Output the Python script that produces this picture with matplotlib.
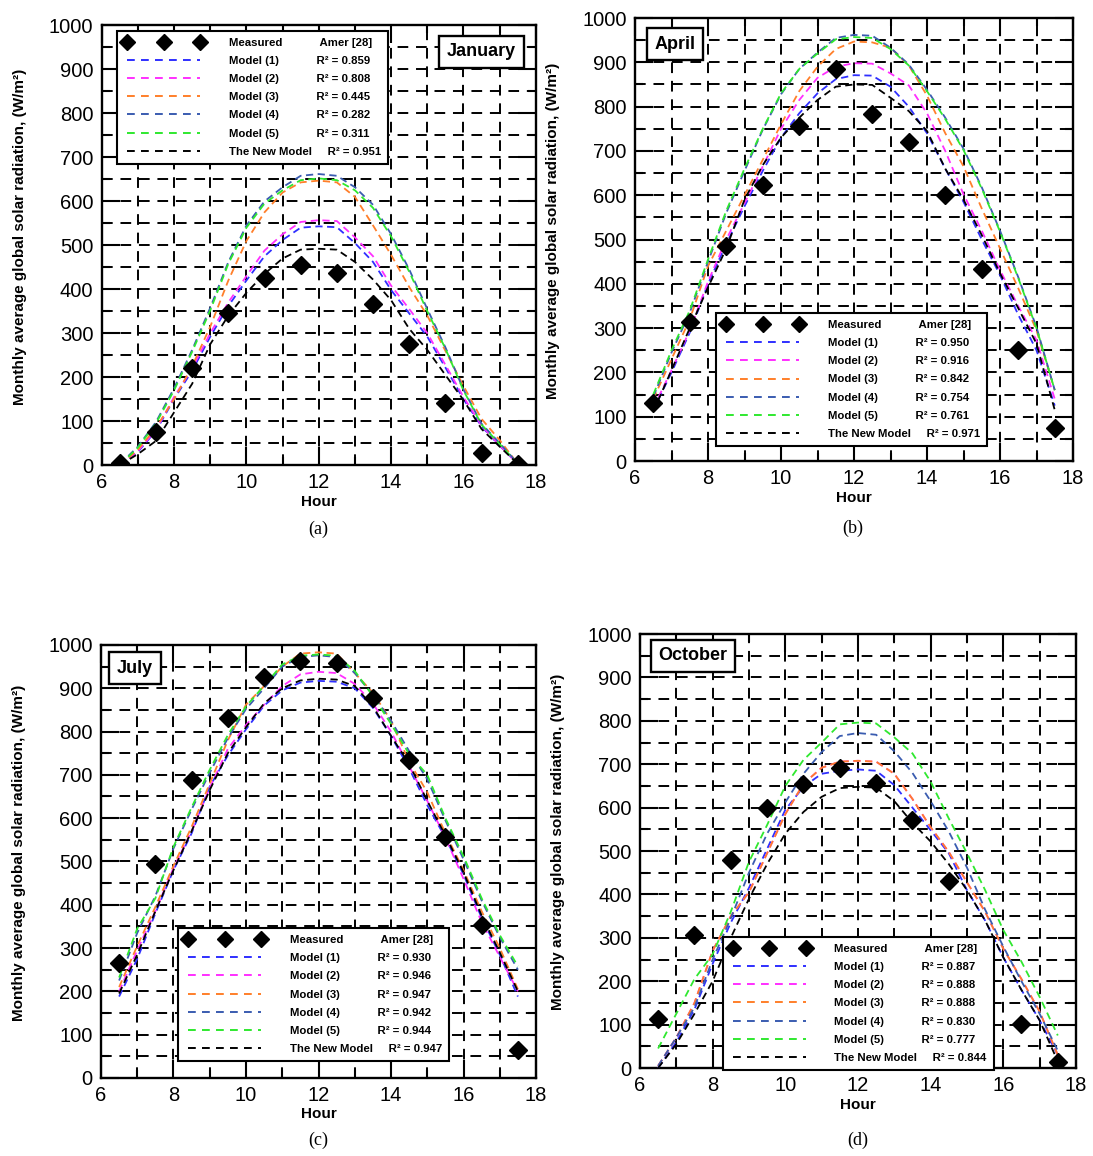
import matplotlib
matplotlib.use('Agg')
import matplotlib.pyplot as plt
from matplotlib.lines import Line2D
from matplotlib.ticker import MultipleLocator

plt.rcParams['font.family'] = ['Liberation Sans', 'DejaVu Sans']

# ---------------- data ----------------
HOURS_MEAS = [6.5, 7.5, 8.5, 9.5, 10.5, 11.5, 12.5, 13.5, 14.5, 15.5, 16.5, 17.5]
HOURS_MODEL = [6.5, 7.0, 7.5, 8.0, 8.5, 9.0, 9.5, 10.0, 10.5, 11.0, 11.5, 12.0,
               12.5, 13.0, 13.5, 14.0, 14.5, 15.0, 15.5, 16.0, 16.5, 17.0, 17.5]

MODEL_NAMES = ['Model (1)', 'Model (2)', 'Model (3)', 'Model (4)', 'Model (5)', 'The New Model']

# January
JAN_MEAS = [4, 76, 221, 347, 425, 456, 437, 366, 275, 141, 28, 2]
JAN_M1 = [0, 30, 78, 150, 215, 292, 362, 420, 475, 512, 540, 543, 541, 505, 462, 398, 345, 292, 222, 150, 88, 44, 3]
JAN_M2 = [0, 32, 80, 155, 220, 300, 370, 430, 488, 525, 553, 557, 555, 518, 475, 408, 355, 300, 228, 155, 90, 45, 3]
JAN_M3 = [0, 35, 85, 150, 225, 315, 420, 510, 575, 620, 643, 647, 643, 610, 545, 478, 405, 340, 260, 180, 105, 57, 3]
JAN_M4 = [2, 42, 98, 175, 262, 358, 462, 545, 600, 632, 658, 662, 658, 632, 592, 525, 445, 355, 268, 172, 94, 50, 4]
JAN_M5 = [0, 40, 95, 170, 258, 352, 458, 540, 595, 625, 648, 652, 648, 625, 585, 520, 440, 350, 265, 170, 92, 48, 3]
JAN_NEW = [0, 25, 55, 120, 185, 275, 340, 392, 435, 470, 490, 492, 490, 462, 422, 375, 310, 262, 205, 148, 82, 42, 3]
JAN_R2 = ['0.859', '0.808', '0.445', '0.282', '0.311', '0.951']

# April
APR_MEAS = [132, 313, 485, 623, 757, 886, 784, 721, 601, 433, 251, 75]
APR_M1 = [115, 200, 290, 400, 490, 575, 655, 730, 785, 830, 862, 871, 870, 845, 800, 740, 660, 585, 500, 420, 330, 250, 125]
APR_M2 = [120, 205, 295, 405, 500, 582, 665, 750, 815, 865, 890, 898, 897, 875, 848, 785, 700, 602, 520, 431, 350, 273, 140]
APR_M3 = [140, 230, 320, 440, 520, 600, 680, 760, 835, 890, 930, 947, 945, 933, 893, 825, 740, 665, 570, 480, 390, 295, 160]
APR_M4 = [145, 245, 335, 450, 560, 655, 748, 828, 885, 922, 955, 962, 960, 933, 895, 838, 775, 705, 618, 520, 415, 302, 160]
APR_M5 = [150, 250, 340, 455, 565, 660, 750, 830, 885, 920, 952, 957, 955, 930, 893, 835, 772, 702, 615, 518, 413, 300, 160]
APR_NEW = [112, 205, 300, 392, 480, 590, 668, 730, 775, 815, 845, 850, 849, 820, 790, 745, 660, 590, 510, 424, 345, 265, 115]
APR_R2 = ['0.950', '0.916', '0.842', '0.754', '0.761', '0.971']

# July
JUL_MEAS = [265, 493, 689, 831, 926, 963, 958, 877, 734, 557, 354, 64]
JUL_M1 = [188, 275, 380, 480, 565, 673, 745, 805, 860, 895, 913, 917, 915, 900, 855, 790, 715, 630, 555, 470, 370, 285, 188]
JUL_M2 = [200, 295, 385, 485, 570, 670, 760, 815, 862, 905, 932, 938, 935, 910, 865, 800, 720, 640, 555, 460, 360, 280, 200]
JUL_M3 = [210, 305, 395, 490, 580, 680, 780, 862, 905, 950, 980, 983, 980, 935, 890, 825, 730, 660, 565, 480, 385, 300, 205]
JUL_M4 = [225, 335, 420, 530, 620, 705, 785, 852, 900, 950, 972, 976, 972, 935, 885, 825, 755, 690, 595, 505, 410, 325, 250]
JUL_M5 = [232, 345, 415, 534, 625, 712, 792, 858, 906, 955, 975, 978, 975, 940, 882, 818, 748, 700, 600, 512, 415, 330, 258]
JUL_NEW = [195, 285, 385, 480, 570, 665, 750, 810, 865, 900, 918, 922, 920, 905, 858, 790, 725, 640, 560, 475, 375, 290, 200]
JUL_R2 = ['0.930', '0.946', '0.947', '0.942', '0.944', '0.947']

# October
OCT_MEAS = [113, 306, 479, 599, 655, 692, 657, 572, 431, 255, 101, 13]
OCT_M1 = [0, 60, 135, 240, 335, 415, 505, 595, 648, 678, 685, 688, 685, 652, 600, 548, 495, 410, 340, 255, 180, 110, 30]
OCT_M2 = [5, 70, 150, 270, 350, 405, 495, 585, 655, 692, 706, 708, 706, 678, 620, 555, 498, 428, 360, 275, 205, 130, 30]
OCT_M3 = [5, 70, 150, 270, 350, 405, 495, 585, 655, 692, 706, 708, 706, 678, 620, 555, 498, 428, 360, 275, 205, 130, 30]
OCT_M4 = [5, 70, 140, 250, 345, 450, 540, 612, 678, 728, 765, 772, 768, 730, 680, 615, 545, 462, 365, 280, 200, 125, 40]
OCT_M5 = [45, 125, 205, 262, 360, 475, 560, 650, 710, 750, 792, 796, 794, 762, 725, 660, 575, 495, 410, 318, 245, 164, 75]
OCT_NEW = [0, 55, 125, 200, 300, 390, 470, 540, 590, 625, 645, 648, 646, 615, 565, 522, 470, 410, 340, 255, 180, 110, 15]
OCT_R2 = ['0.887', '0.888', '0.888', '0.830', '0.777', '0.844']

MODEL_COLORS = ['#2f2fff', '#ff2fff', '#ff7f2a', '#3a5cb0', '#2fe82f', '#000000']

# ---------------- layout ----------------
fig = plt.figure(figsize=(10.93, 11.56), dpi=100)

panels = [
    dict(rect=[0.0931, 0.5977, 0.3971, 0.3803], month='January', meas=JAN_MEAS,
         models=[JAN_M1, JAN_M2, JAN_M3, JAN_M4, JAN_M5, JAN_NEW], r2=JAN_R2,
         leg_anchor=(0.035, 0.988), box=(0.875, 0.940), cap='(a)', cap_xy=(0.291, 0.5424)),
    dict(rect=[0.5810, 0.6012, 0.4007, 0.3832], month='April', meas=APR_MEAS,
         models=[APR_M1, APR_M2, APR_M3, APR_M4, APR_M5, APR_NEW], r2=APR_R2,
         leg_anchor=(0.185, 0.334), box=(0.092, 0.941), cap='(b)', cap_xy=(0.780, 0.543)),
    dict(rect=[0.0924, 0.0675, 0.3980, 0.3746], month='July', meas=JUL_MEAS,
         models=[JUL_M1, JUL_M2, JUL_M3, JUL_M4, JUL_M5, JUL_NEW], r2=JUL_R2,
         leg_anchor=(0.177, 0.346), box=(0.078, 0.946), cap='(c)', cap_xy=(0.291, 0.0138)),
    dict(rect=[0.5855, 0.0761, 0.3989, 0.3754], month='October', meas=OCT_MEAS,
         models=[OCT_M1, OCT_M2, OCT_M3, OCT_M4, OCT_M5, OCT_NEW], r2=OCT_R2,
         leg_anchor=(0.19, 0.302), box=(0.122, 0.95), cap='(d)', cap_xy=(0.785, 0.0138)),
]

grid_style = (0, (5.5, 4))
model_dash = (4, 2.5)

for p in panels:
    ax = fig.add_axes(p['rect'])
    ax.set_xlim(6, 18)
    ax.set_ylim(0, 1000)
    ax.xaxis.set_major_locator(MultipleLocator(2))
    ax.xaxis.set_minor_locator(MultipleLocator(1))
    ax.yaxis.set_major_locator(MultipleLocator(100))
    ax.yaxis.set_minor_locator(MultipleLocator(50))
    ax.set_axisbelow(True)
    ax.grid(which='both', color='black', linestyle=grid_style, linewidth=1.4)
    ax.tick_params(which='both', direction='in', top=True, right=True, width=1.5, colors='black')
    ax.tick_params(which='major', length=13, labelsize=14.5, pad=6)
    ax.tick_params(which='minor', length=6)
    for s in ax.spines.values():
        s.set_linewidth(1.7)

    for vals, col in zip(p['models'], MODEL_COLORS):
        ax.plot(HOURS_MODEL, vals, color=col, lw=1.3, dashes=model_dash, zorder=3)
    ax.plot(HOURS_MEAS, p['meas'], ls='none', marker='D', ms=9, color='black', zorder=4)

    ax.set_xlabel('Hour', fontsize=11, fontweight='bold')
    ax.xaxis.set_label_coords(0.5, -0.068)
    ax.set_ylabel('Monthly average global solar radiation, (W/m²)', fontsize=11, fontweight='bold')
    ax.yaxis.set_label_coords(-0.172, 0.52)

    handles = [Line2D([], [], ls='none', marker='D', ms=8.5, color='black')]
    labels = ['Measured            Amer [28]']
    for name, col, r in zip(MODEL_NAMES, MODEL_COLORS, p['r2']):
        handles.append(Line2D([], [], color=col, lw=1.4, dashes=(4, 3.2)))
        if name.startswith('Model'):
            labels.append(f'{name}            R² = {r}')
        else:
            labels.append(f'{name}     R² = {r}')
    leg = ax.legend(handles, labels, loc='upper left', bbox_to_anchor=p['leg_anchor'],
                    numpoints=3, handlelength=7.0, handletextpad=2.2, labelspacing=0.72,
                    borderpad=0.6, borderaxespad=0, fancybox=False, framealpha=1,
                    edgecolor='black', prop={'size': 8.2, 'weight': 'bold'})
    leg.get_frame().set_linewidth(1.5)
    leg.set_zorder(6)

    ax.text(p['box'][0], p['box'][1], p['month'], transform=ax.transAxes, ha='center', va='center',
            fontsize=13, fontweight='bold', zorder=7,
            bbox=dict(boxstyle='square,pad=0.42', facecolor='white', edgecolor='black', linewidth=1.7))

    fig.text(p['cap_xy'][0], p['cap_xy'][1], p['cap'], ha='center', va='center',
             fontsize=13, family=['Liberation Serif', 'DejaVu Serif'])

fig.savefig('out.png', dpi=100, facecolor='white')
